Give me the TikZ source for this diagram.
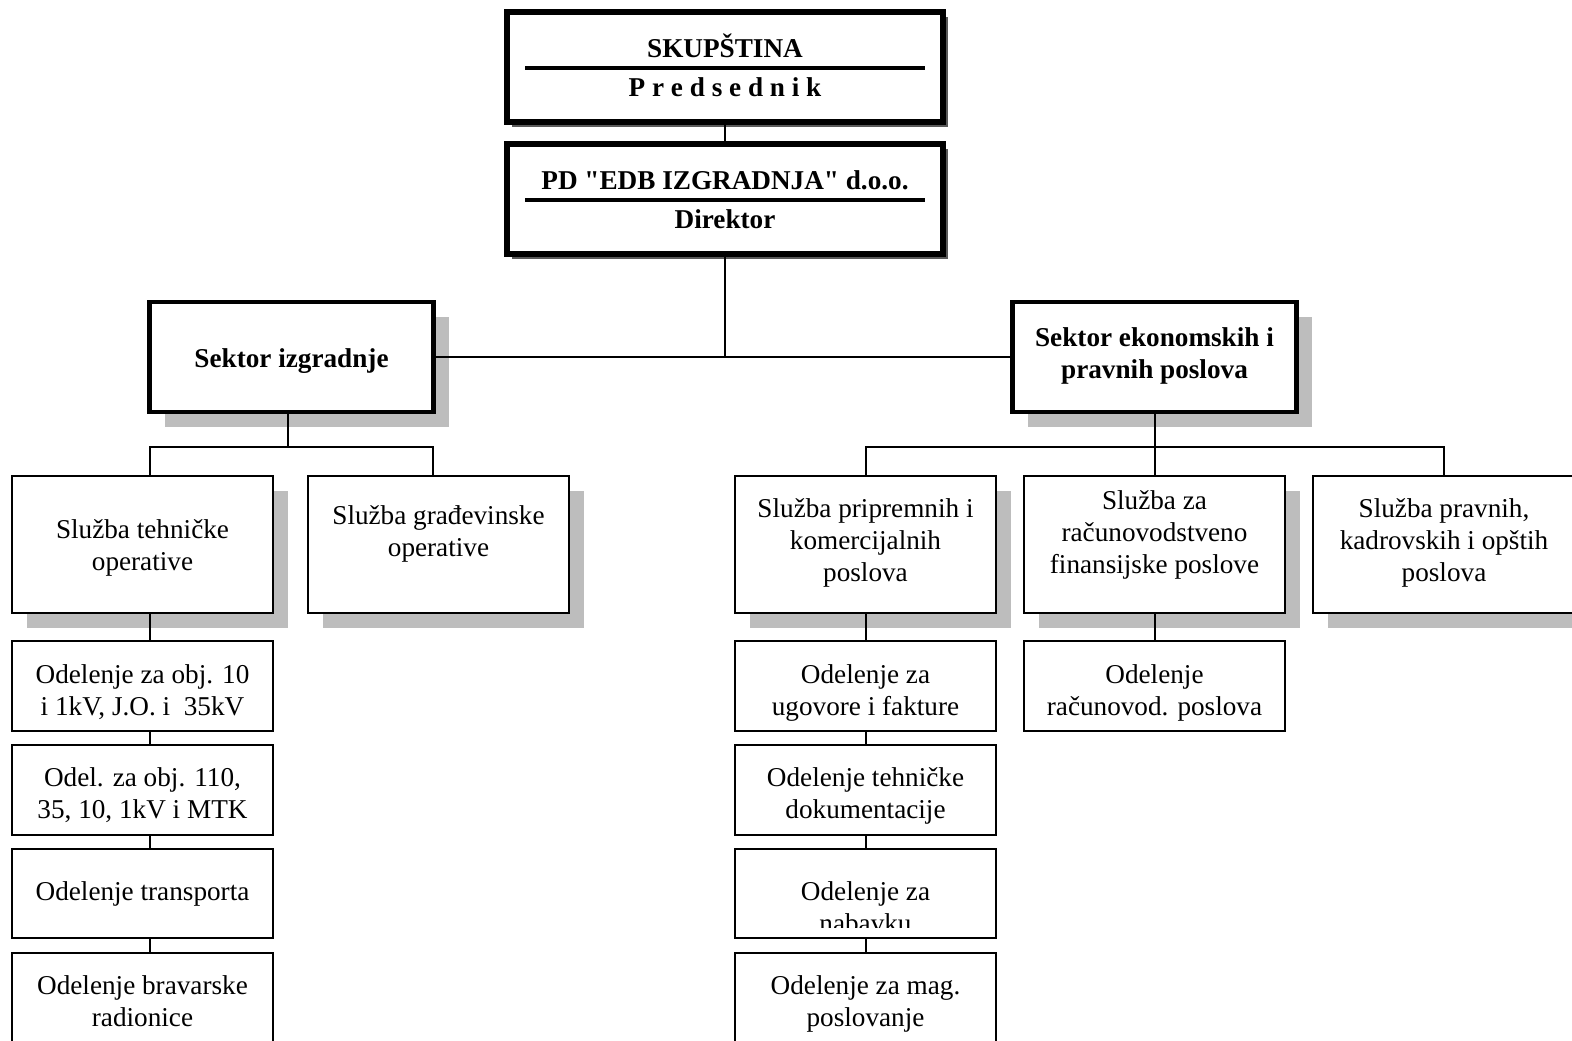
\documentclass[tikz,border=0pt]{standalone}
\usepackage{fontspec}
\setmainfont{Liberation Serif}[Ligatures=TeXOff]
\usetikzlibrary{shadows,calc}
\begin{document}
\begin{tikzpicture}[x=0.5pt,y=-0.5pt,
  every node/.style={inner sep=0pt, outer sep=0pt},
  txt/.style={font=\fontsize{13.6}{16}\selectfont, align=center,
    execute at begin node=\strut, execute at end node=\strut},
  btxt/.style={txt, font=\fontsize{13.6}{16}\selectfont\bfseries},
  conn/.style={line width=1pt},
  gshadow/.style={drop shadow={shadow xshift=7.5pt, shadow yshift=-7.5pt, fill=gray!52, opacity=1}},
  topbox/.style={draw, line width=2.7pt, fill=white, minimum width=218pt, minimum height=55pt,
    drop shadow={shadow xshift=2.6pt, shadow yshift=-2.6pt, fill=black!65, opacity=1}},
  sekbox/.style={draw, line width=2.4pt, fill=white, minimum width=142pt, minimum height=55pt, gshadow},
  slbox/.style={draw, line width=1.1pt, fill=white, minimum width=130.5pt, minimum height=68.5pt, gshadow},
  obox/.style={draw, line width=1.1pt, fill=white, minimum width=130.5pt, minimum height=45pt},
  lastbox/.style={draw, line width=1.1pt, fill=white, minimum width=130.5pt, minimum height=55pt},
  divider/.style={line width=1.6pt}
]
\useasboundingbox (0,0) rectangle (1572,1040);
\clip (0,0) rectangle (1572,1040);

% top boxes
\node[topbox] (skup) at (725,67) {};
\node[topbox] (edb) at (725,199) {};
\draw[divider] ($(skup.center)+(-200,1)$) -- ($(skup.center)+(200,1)$);
\draw[divider] ($(edb.center)+(-200,1)$) -- ($(edb.center)+(200,1)$);
\node[btxt] (skupT) at (725,50) {SKUPŠTINA};
\node[btxt] (predT) at (725,90) {P r e d s e d n i k};
\node[btxt] (edbT) at (725,183) {PD "EDB IZGRADNJA" d.o.o.};
\node[btxt] (dirT) at (725,222) {Direktor};

% sectors
\node[sekbox] (sekI) at (291.5,357) {};
\node[btxt] (sekIT) at (291.5,361) {Sektor izgradnje};
\node[sekbox] (sekE) at (1154.5,357) {};
\node[btxt] (sekET) at (1154.5,357.5) {Sektor ekonomskih i\\pravnih poslova};

% sluzbe
\node[slbox] (st) at (142.5,544.5) {};
\node[txt] (stT) at (142.5,549.5) {Služba tehničke\\operative};
\node[slbox] (sg) at (438.5,544.5) {};
\node[txt] (sgT) at (438.5,535.5) {Služba građevinske\\operative};
\node[slbox] (sp) at (865.5,544.5) {};
\node[txt] (spT) at (865.5,544.5) {Služba pripremnih i\\komercijalnih\\poslova};
\node[slbox] (sr) at (1154.5,544.5) {};
\node[txt] (srT) at (1154.5,537) {Služba za\\računovodstveno\\finansijske poslove};
\node[slbox, minimum width=131pt] (spr) at (1444,544.5) {};
\node[txt] (sprT) at (1444,544.5) {Služba pravnih,\\kadrovskih i opštih\\poslova};

% left column
\node[obox] (l1) at (142.5,686) {};
\node[txt] (l1T) at (142.5,694.5) {Odelenje za obj. 10\\i 1kV, J.O. i\ \ 35kV};
\node[obox] (l2) at (142.5,790) {};
\node[txt] (l2T) at (142.5,798) {Odel. za obj. 110,\\35, 10, 1kV i MTK};
\node[obox, minimum height=44.5pt] (l3) at (142.5,893.5) {};
\node[txt] (l3T) at (142.5,894) {Odelenje transporta};
\node[lastbox] (l4) at (142.5,1008) {};
\node[txt] (l4T) at (142.5,1005.5) {Odelenje bravarske\\radionice};

% right column
\node[obox] (r1) at (865.5,686) {};
\node[txt] (r1T) at (865.5,694.5) {Odelenje za\\ugovore i fakture};
\node[obox] (r2) at (865.5,790) {};
\node[txt] (r2T) at (865.5,798) {Odelenje tehničke\\dokumentacije};
\node[obox, minimum height=44.5pt] (r3) at (865.5,893.5) {};
\begin{scope}
  \clip (737,851) rectangle (994,927);
  \node[txt] (r3T) at (865.5,912) {Odelenje za\\nabavku};
\end{scope}
\node[lastbox] (r4) at (865.5,1008) {};
\node[txt] (r4T) at (865.5,1005.5) {Odelenje za mag.\\poslovanje};

% racunovod
\node[obox] (rr) at (1154.5,686) {};
\node[txt] (rrT) at (1154.5,694.5) {Odelenje\\računovod. poslova};

% connectors
\coordinate (lx) at (150,0);
\coordinate (gx) at (433,0);
\coordinate (j1) at (725,357);
\coordinate (jl) at (288,447);
\coordinate (jr) at (1154.5,447);

\draw[conn] (skup.south) -- (edb.north);
\draw[conn] (edb.south) -- (j1);
\draw[conn] (sekI.east) -- (sekE.west);

\draw[conn] (sekI.south -| jl) -- (jl);
\draw[conn] (st.north -| lx) |- (jl) -| (sg.north -| gx);

\draw[conn] (sekE.south) -- (sr.north);
\draw[conn] (sp.north) |- (jr) -| (spr.north);

\draw[conn] (st.south -| lx) -- (l1.north -| lx);
\draw[conn] (l1.south -| lx) -- (l2.north -| lx);
\draw[conn] (l2.south -| lx) -- (l3.north -| lx);
\draw[conn] (l3.south -| lx) -- (l4.north -| lx);

\draw[conn] (sp.south) -- (r1.north);
\draw[conn] (r1.south) -- (r2.north);
\draw[conn] (r2.south) -- (r3.north);
\draw[conn] (r3.south) -- (r4.north);

\draw[conn] (sr.south) -- (rr.north);
\end{tikzpicture}
\end{document}
